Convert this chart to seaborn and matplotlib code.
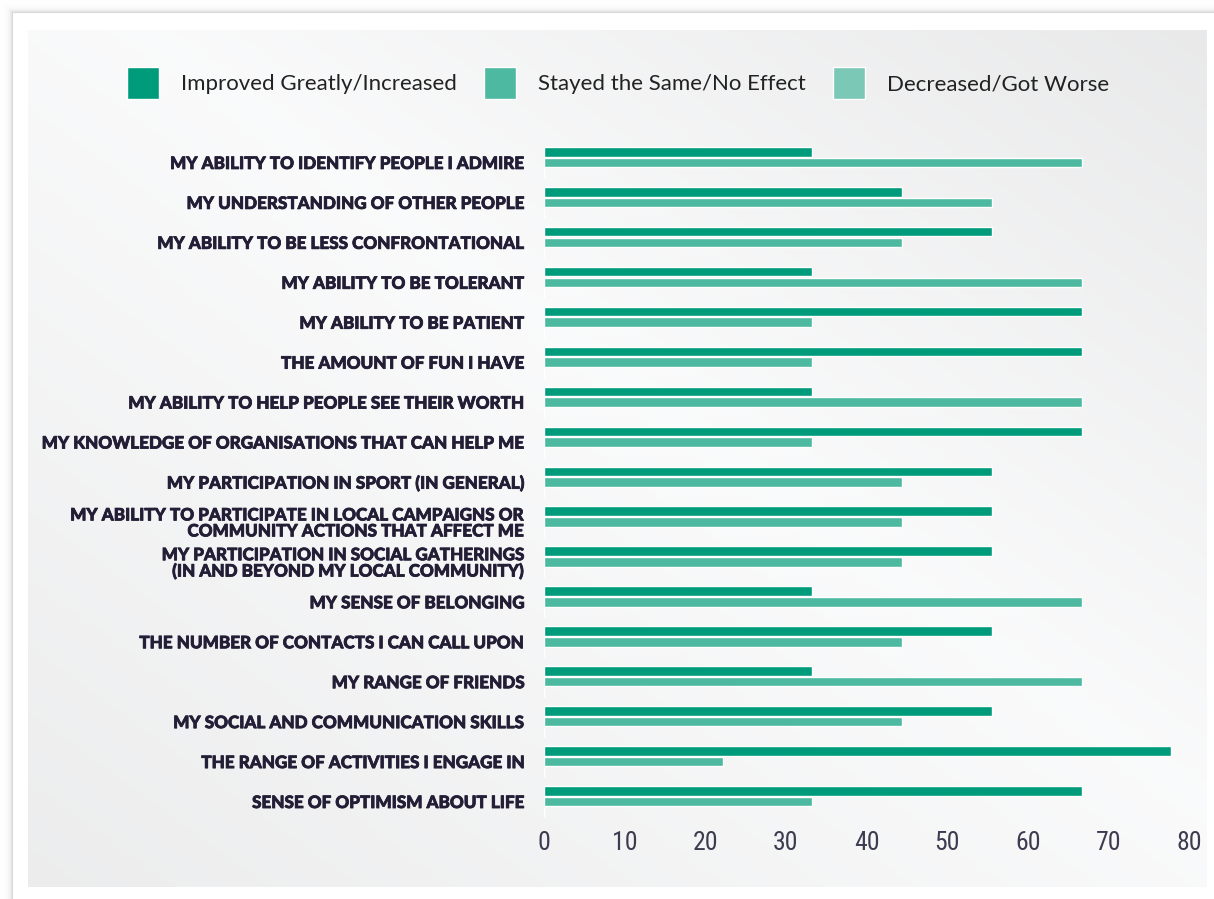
import numpy as np
import pandas as pd
import matplotlib
matplotlib.use("Agg")
import matplotlib.pyplot as plt
import matplotlib.patheffects as pe
import seaborn as sns
from matplotlib import font_manager

# ---- data -------------------------------------------------------------
categories = [
    "MY ABILITY TO IDENTIFY PEOPLE I ADMIRE",
    "MY UNDERSTANDING OF OTHER PEOPLE",
    "MY ABILITY TO BE LESS CONFRONTATIONAL",
    "MY ABILITY TO BE TOLERANT",
    "MY ABILITY TO BE PATIENT",
    "THE AMOUNT OF FUN I HAVE",
    "MY ABILITY TO HELP PEOPLE SEE THEIR WORTH",
    "MY KNOWLEDGE OF ORGANISATIONS THAT CAN HELP ME",
    "MY PARTICIPATION IN SPORT (IN GENERAL)",
    "MY ABILITY TO PARTICIPATE IN LOCAL CAMPAIGNS OR\nCOMMUNITY ACTIONS THAT AFFECT ME",
    "MY PARTICIPATION IN SOCIAL GATHERINGS\n(IN AND BEYOND MY LOCAL COMMUNITY)",
    "MY SENSE OF BELONGING",
    "THE NUMBER OF CONTACTS I CAN CALL UPON",
    "MY RANGE OF FRIENDS",
    "MY SOCIAL AND COMMUNICATION SKILLS",
    "THE RANGE OF ACTIVITIES I ENGAGE IN",
    "SENSE OF OPTIMISM ABOUT LIFE",
]
improved = [33.3, 44.4, 55.6, 33.3, 66.7, 66.7, 33.3, 66.7, 55.6, 55.6,
            55.6, 33.3, 55.6, 33.3, 55.6, 77.8, 66.7]
stayed = [66.7, 55.6, 44.4, 66.7, 33.3, 33.3, 66.7, 33.3, 44.4, 44.4,
          44.4, 66.7, 44.4, 66.7, 44.4, 22.2, 33.3]
decreased = [0, 0, 0, 0, 0, 0, 0, 0, 0, 0, 0, 0, 0, 0, 0, 0, 0]
series_names = ["Improved Greatly/Increased", "Stayed the Same/No Effect",
                "Decreased/Got Worse"]
x_ticks = [0, 10, 20, 30, 40, 50, 60, 70, 80]

colors = ["#009b7b", "#4cb9a0", "#7cc8b7"]

df = pd.DataFrame({
    "category": categories * 3,
    "series": [series_names[0]] * len(categories)
    + [series_names[1]] * len(categories)
    + [series_names[2]] * len(categories),
    "value": improved + stayed + decreased,
})

# ---- fonts ------------------------------------------------------------
sns.set_theme(style="white")
available = {f.name for f in font_manager.fontManager.ttflist}


def pick(*names):
    for n in names:
        if n in available:
            return n
    return "DejaVu Sans"


label_font = pick("Lato", "Open Sans", "Noto Sans")
tick_font = pick("Liberation Sans Narrow", "Roboto Condensed",
                 "Open Sans Condensed", "Roboto", "Lato")
plt.rcParams["font.family"] = [label_font, "DejaVu Sans"]

# ---- figure and card background ----------------------------------------
W, H = 1214, 899
fig = plt.figure(figsize=(W / 100, H / 100), dpi=100)
fig.patch.set_facecolor("white")

yy, xx = np.mgrid[0:H, 0:W].astype(float)
img = np.ones((H, W, 3))

# soft shadow outside the card's top and left edges
card_x, card_y = 13, 13
dist = np.maximum(card_x - xx, card_y - yy)
outside = dist > 0
shade = 1.0 - 0.15 * np.exp(-(dist - 1) / 2.5)
img[outside] = shade[outside][:, None]

# grey gradient panel inside the card
px0, px1, py0, py1 = 28, 1207, 30, 887
inside = (xx >= px0) & (xx < px1) & (yy >= py0) & (yy < py1)
u = (xx - px0) / (px1 - px0)
v = (yy - py0) / (py1 - py0)
d = u - v - 0.1
val = 0.98 - np.where(d > 0, 0.075 * d, 0.05 * (-d))
panel = np.stack([val, val + 0.002, val + 0.005], axis=-1).clip(0, 1)
img[inside] = panel[inside]

bg = fig.add_axes([0, 0, 1, 1], zorder=-10)
bg.imshow(img, extent=(0, W, H, 0), aspect="auto", interpolation="bilinear")
bg.set_axis_off()

# ---- bar chart --------------------------------------------------------
x0_px, x80_px = 544, 1189
top_px, bottom_px = 142.5, 821.5
ax = fig.add_axes([x0_px / W, 1 - bottom_px / H,
                   (x80_px - x0_px) / W, (bottom_px - top_px) / H])
ax.patch.set_alpha(0)

sns.barplot(data=df, y="category", x="value", hue="series", orient="h",
            order=categories, hue_order=series_names, palette=colors,
            saturation=1, width=0.8, gap=0.1, ax=ax, legend=True)

ax.set_xlim(0, 80)
ax.set_ylim(len(categories) - 0.5, -0.5)
ax.set_xticks(x_ticks)
ax.set_xticklabels([str(t) for t in x_ticks])
ax.set_xlabel("")
ax.set_ylabel("")
for s in ax.spines.values():
    s.set_visible(False)
ax.grid(False)
ax.tick_params(axis="both", length=0)
ax.tick_params(axis="x", pad=7, labelsize=18.5, labelcolor="#3d3b50")
ax.tick_params(axis="y", pad=14, labelsize=12.3, labelcolor="#231e36")
for t in ax.get_xticklabels():
    t.set_family([tick_font, "DejaVu Sans"])
    t.set_fontweight("normal")
heavy = [pe.withStroke(linewidth=0.55, foreground="#231e36")]
for t in ax.get_yticklabels():
    t.set_fontweight("black")
    t.set_linespacing(1.0)
    t.set_path_effects(heavy)

# ---- legend across the top -------------------------------------------
leg = ax.get_legend()
handles = leg.legend_handles
labels = [t.get_text() for t in leg.get_texts()]
leg.remove()
fig.legend(handles, labels, loc="center left",
           bbox_to_anchor=(127 / W, 1 - 83 / H), ncol=3, frameon=False,
           fontsize=16, handlelength=1.45, handleheight=1.84,
           handletextpad=1.0, columnspacing=1.2, borderpad=0,
           borderaxespad=0, labelcolor="#222222")

fig.savefig("out.png", dpi=100)
